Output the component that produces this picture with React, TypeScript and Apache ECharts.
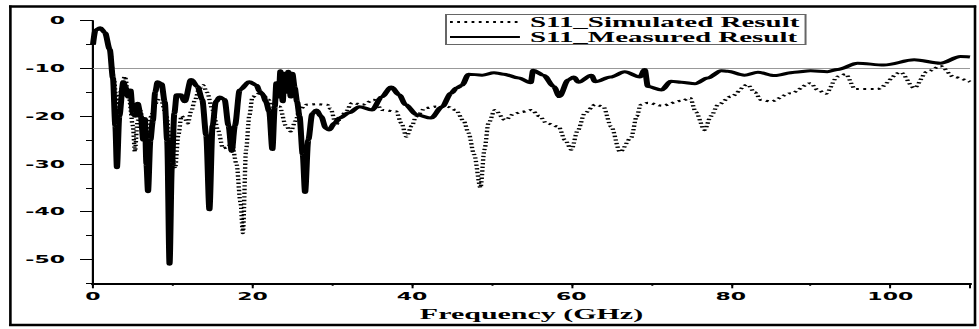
import React, { useEffect, useRef } from "react";
import * as echarts from "echarts";

// Frequency (GHz) and S11 (dB)
const measuredFreq = [
  0, 0.3, 0.9, 1.5, 2.1, 2.5, 2.8, 3.0, 3.3, 3.8, 4.1, 4.4, 4.7, 5.0, 5.3, 5.6, 6.0, 6.3, 6.5, 6.7, 6.9,
  7.2, 7.5, 7.8, 8.1, 8.6, 9.0, 9.3, 9.6, 9.9, 10.2, 10.5, 11.0, 11.5, 12.3, 13.1, 13.7, 14.2, 14.6,
  15.0, 15.4, 15.9, 16.5, 17.0, 17.4, 17.8, 18.4, 19.6, 20.5, 20.9, 21.3, 21.7, 22.1, 22.5, 22.8,
  23.0, 23.3, 23.5, 23.8, 24.0, 24.3, 24.5, 24.8, 25.0, 25.3, 25.6, 25.9, 26.3, 26.6, 27.0, 27.5,
  28.0, 28.6, 29.2, 29.6, 30.3, 30.9, 32.1, 33.4, 35.0, 36.2, 37.4, 38.4, 39.2, 40.6, 42.4, 43.8,
  44.9, 45.6, 46.3, 47.1, 48.8, 50.3, 51.5, 53.4, 54.9, 55.2, 56.5, 57.8, 58.5, 59.6, 60.3, 60.9,
  62.5, 63.0, 64.9, 66.7, 68.6, 69.2, 69.6, 71.3, 72.5, 73.8, 75.5, 77.1, 78.8, 79.6, 81.7, 83.4,
  85.5, 88.0, 90.0, 92.1, 93.4, 95.9, 99.2, 103.0, 106.3, 108.8, 110,
];
const measuredS11 = [
  -5, -2, -1.5, -2.5, -6, -12, -22, -30.8, -20, -12.8, -14, -16, -14.5, -19.5, -20, -17.3, -20, -25, -20.5, -30, -35.8,
  -25, -21, -15, -12.8, -13.2, -17, -25, -51, -30, -19.4, -15.5, -15.5, -17, -12.3, -13.8, -16.5, -24, -39.6,
  -22, -17, -16, -16.5, -22, -27.4, -22, -14.5, -12.8, -13.5, -14.8, -15.5, -17, -19, -27, -18,
  -13, -16, -10.5, -17, -11, -15, -10.6, -16, -11, -14, -17, -20, -28, -36, -25, -19.5,
  -18.7, -20, -22.5, -22.9, -21.5, -20.4, -19.3, -18, -18.7, -16, -13.9, -15.5, -17.6, -19.7, -20.4, -18,
  -15.2, -14.1, -13.5, -11.2, -11.4, -10.9, -11.2, -12, -13, -10.4, -11.4, -13.8, -15.9, -12.4, -11.8, -12.9,
  -11.4, -12.8, -11.8, -10.7, -11.8, -10.2, -13.8, -14.5, -12.7, -12.9, -13.2, -12, -10.5, -10.6, -11.4, -10.8,
  -11.5, -10.8, -10.5, -10.7, -10.2, -8.9, -9.3, -8.2, -8.9, -7.5, -7.6,
];

const simulatedFreq = [
  0, 0.3, 0.9, 1.5, 2.1, 2.6, 3.0, 3.4, 4.0, 4.5, 5.0, 5.25, 5.6, 5.9, 6.3, 6.8, 7.3, 7.8, 8.1, 8.6,
  9.2, 9.8, 10.3, 10.7, 11.1, 11.5, 11.9, 12.3, 12.8, 13.3, 13.8, 14.3, 15.0, 15.7, 16.3, 16.9, 17.4,
  18.0, 18.5, 18.8, 19.2, 19.6, 20.0, 20.5, 21.0, 22.0, 22.5, 23.4, 24.2, 24.8, 25.4, 25.9, 26.7, 28.0,
  29.4, 29.8, 30.5, 31.0, 31.7, 32.5, 33.8, 35.2, 36.3, 38.0, 38.7, 39.3, 40.0, 40.5, 41.7, 43.0, 44.4,
  45.5, 46.5, 47.1, 47.8, 48.6, 49.1, 49.6, 50.4, 51.7, 52.8, 53.8, 55.0, 56.0, 56.9, 58.4, 59.2, 60.0,
  60.8, 61.7, 63.0, 64.0, 65.0, 66.1, 67.5, 68.2, 68.7, 69.6, 71.3, 73.8, 74.9, 75.6, 76.7, 77.5, 78.4,
  80.0, 82.1, 83.0, 83.8, 85.0, 87.5, 90.0, 90.9, 91.9, 93.4, 94.4, 95.6, 98.4, 101.3, 103.0, 104.6,
  106.3, 108.0, 110,
];
const simulatedS11 = [
  -5, -2, -1.5, -2.5, -6, -12, -18, -15, -11.7, -16, -22, -27.4, -21, -18.7, -21, -23.6, -20, -17.5, -16.6, -17,
  -20, -27, -30.9, -24, -20, -20.5, -21.5, -19, -16.6, -14.3, -13.5, -15, -18.7, -23, -26.7, -26.5, -25.6,
  -30, -38, -44.5, -27, -20, -16, -15.5, -15, -16.5, -18, -18, -22, -23.2, -21, -18.7, -17.6, -17.5,
  -17.6, -18.5, -21.8, -20.5, -19, -17.2, -17.6, -16.6, -18.7, -19, -21.5, -24.3, -22, -20.1, -18.3, -18, -18,
  -18.7, -21, -23.5, -28, -35, -27, -21.5, -18.7, -20.8, -19.5, -19.1, -18.7, -20, -21.5, -22.2, -25, -27,
  -23, -19.3, -17.6, -18, -22.2, -27.5, -24.5, -20, -17.6, -17.2, -17.8, -16.8, -16.2, -19.1, -22.9, -20, -17.6,
  -15.9, -13.4, -15, -16.6, -16.9, -15.2, -13.1, -14.5, -15.3, -11.7, -11.2, -14.3, -14.3, -10.8, -14.1, -10.7,
  -9.5, -11.8, -12.8,
];

const seriesNames = ["S11_Simulated Result", "S11_Measured Result"];
const axisName = "Frequency (GHz)";

const W = 490;
const H = 329;
const S = 979 / W;

const pairs = (xs: number[], ys: number[]) => xs.map((x, i) => [x, ys[i]]);

const tickFont = {
  fontFamily: "'DejaVu Sans', sans-serif",
  fontWeight: "bold" as const,
  fontSize: 11,
  color: "#000",
};
const serifFont = {
  fontFamily: "'Liberation Serif', 'Times New Roman', serif",
  fontWeight: "bold" as const,
  fontSize: 15,
  color: "#000",
};

export default function App() {
  const ref = useRef<HTMLDivElement>(null);
  useEffect(() => {
    if (!ref.current) return;
    const chart = echarts.init(ref.current, null, { renderer: "svg", width: W, height: H });
    const axisLineStyle = { color: "#000", width: 1 };
    chart.setOption({
      animation: false,
      backgroundColor: "#fff",
      grid: { left: 93 / S, right: W - 970 / S, top: 20.7, bottom: H - 283.3, containLabel: false },
      legend: {
        orient: "vertical",
        left: 446 / S,
        top: 14.5,
        itemGap: 0,
        itemWidth: 35,
        itemHeight: 10,
        padding: [0, 3, 0, 1],
        borderColor: "#666",
        borderWidth: 1,
        backgroundColor: "#fff",
        itemStyle: { color: "rgba(0,0,0,0)", borderColor: "rgba(0,0,0,0)", borderWidth: 0, opacity: 0 },
        textStyle: { ...serifFont, fontSize: 14.5, lineHeight: 14 },
        data: seriesNames,
      },
      xAxis: [
        {
          type: "value",
          min: 0,
          max: 110,
          interval: 10,
          position: "bottom",
          axisLine: { show: true, onZero: false, lineStyle: { color: "#000", width: 2 } },
          axisTick: { show: true, length: 2.5, lineStyle: axisLineStyle },
          axisLabel: { show: false },
          splitLine: { show: false },
        },
        {
          type: "value",
          min: 0,
          max: 110,
          interval: 20,
          position: "bottom",
          axisLine: { show: true, onZero: false, lineStyle: { color: "#000", width: 2 } },
          axisTick: { show: true, length: 5, lineStyle: axisLineStyle },
          axisLabel: {
            ...tickFont,
            margin: 7,
            formatter: (v: number) => (v % 20 === 0 ? String(v) : ""),
          },
          splitLine: { show: false },
          name: axisName,
          nameLocation: "middle",
          nameGap: 23,
          nameTextStyle: serifFont,
        },
      ],
      yAxis: [
        {
          type: "value",
          min: -55,
          max: 0,
          interval: 5,
          position: "left",
          axisLine: { show: true, onZero: false, lineStyle: axisLineStyle },
          axisTick: { show: true, length: 3.5, lineStyle: axisLineStyle },
          axisLabel: { show: false },
          splitLine: { show: false },
        },
        {
          type: "value",
          min: -55,
          max: 0,
          splitNumber: 5,
          position: "left",
          axisLine: { show: true, onZero: false, lineStyle: axisLineStyle },
          axisTick: { show: true, length: 6.5, lineStyle: axisLineStyle },
          axisLabel: {
            ...tickFont,
            margin: 14,
            showMinLabel: false,
            formatter: (v: number) => (v % 10 === 0 ? String(v) : ""),
          },
          splitLine: { show: false },
        },
      ],
      graphic: [
        { type: "line", shape: { x1: 4.5, y1: 6.5, x2: 488.6, y2: 6.5 }, style: { stroke: "#000", lineWidth: 2.4 } },
        { type: "line", shape: { x1: 4.5, y1: 325, x2: 488.6, y2: 325 }, style: { stroke: "#000", lineWidth: 2.4 } },
        { type: "line", shape: { x1: 5.2, y1: 5.5, x2: 5.2, y2: 326 }, style: { stroke: "#000", lineWidth: 1.3 } },
        { type: "line", shape: { x1: 488, y1: 5.5, x2: 488, y2: 326 }, style: { stroke: "#000", lineWidth: 1.3 } },
      ],
      series: [
        {
          type: "line",
          name: seriesNames[0],
          xAxisIndex: 0,
          yAxisIndex: 0,
          data: pairs(simulatedFreq, simulatedS11),
          symbol: "none",
          showSymbol: false,
          smooth: 0.3,
          smoothMonotone: "x",
          itemStyle: { color: "#000" },
          lineStyle: { color: "#000", width: 2.2, type: [1.4, 2.2] },
          z: 3,
          markLine: {
            silent: true,
            z: 1,
            symbol: ["none", "none"],
            label: { show: false },
            lineStyle: { color: "#999", width: 1, type: "solid" },
            data: [{ yAxis: -10 }],
          },
        },
        {
          type: "line",
          name: seriesNames[1],
          xAxisIndex: 0,
          yAxisIndex: 0,
          data: pairs(measuredFreq, measuredS11),
          symbol: "none",
          showSymbol: false,
          smooth: 0.3,
          smoothMonotone: "x",
          itemStyle: { color: "#000" },
          lineStyle: { color: "#000", width: 3, type: "solid" },
          z: 4,
        },
      ],
    });
    return () => chart.dispose();
  }, []);
  return (
    <div
      style={{
        position: "fixed",
        left: 0,
        top: 0,
        width: 979,
        height: 329,
        overflow: "hidden",
        background: "#fff",
      }}
    >
      <div
        ref={ref}
        style={{
          width: W,
          height: H,
          transform: `scaleX(${S})`,
          transformOrigin: "0 0",
        }}
      />
    </div>
  );
}
